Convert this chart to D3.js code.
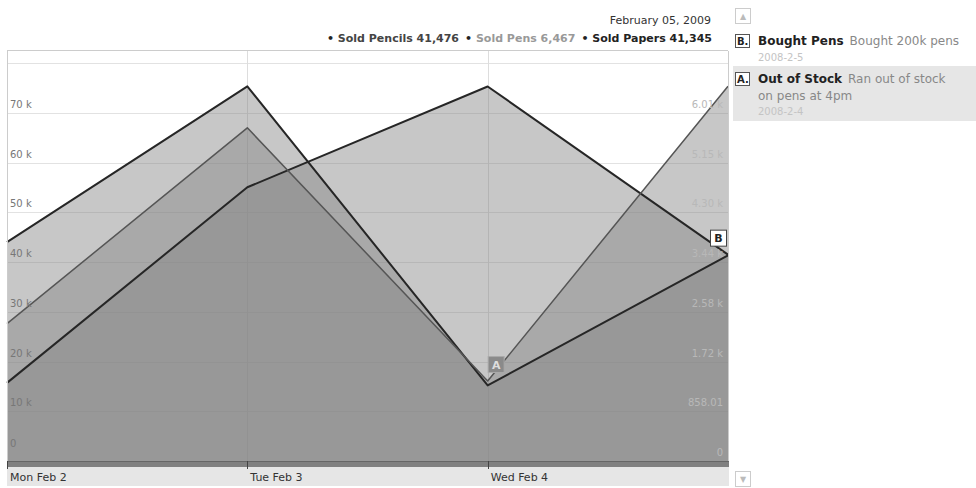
<!DOCTYPE html>
<html>
<head>
<meta charset="utf-8">
<script src="https://cdn.jsdelivr.net/npm/d3@7"></script>
<style>
  html, body { margin: 0; padding: 0; background: #fff; }
  svg { display: block; font-family: "DejaVu Sans", Verdana, sans-serif; }
</style>
</head>
<body>
<script>
// ── Datos ────────────────────────────────────────────────────────────────
const days    = ["2009-02-02", "2009-02-03", "2009-02-04", "2009-02-05"];
const dayLabels = ["Mon Feb 2", "Tue Feb 3", "Wed Feb 4"];
const pencils = [15700, 55022, 75284, 41476];
const papers  = [44000, 75300, 15200, 41345];
const pens    = [2370, 5750, 1380, 6467];   // eje derecho
const leftTicks  = [0, 10000, 20000, 30000, 40000, 50000, 60000, 70000, 80000];
const leftLabels = ["0", "10 k", "20 k", "30 k", "40 k", "50 k", "60 k", "70 k", ""];
const rightLabels = ["0", "858.01", "1.72 k", "2.58 k", "3.44 k", "4.30 k", "5.15 k", "6.01 k"];
const rightStep = 6010 / 7;
const legendItems = [
  {name: "Sold Pencils", value: "41,476", color: "#444"},
  {name: "Sold Pens",    value: "6,467",  color: "#999"},
  {name: "Sold Papers",  value: "41,345", color: "#222"},
];
const annotations = [
  {flag: "B", title: "Bought Pens",  text: ["Bought 200k pens"], date: "2008-2-5", series: "pencils", day: 3},
  {flag: "A", title: "Out of Stock", text: ["Ran out of stock", "on pens at 4pm"], date: "2008-2-4", series: "pens", day: 2},
];

const W = 976, H = 488;
const X0 = 7, X1 = 728, Y0 = 461, YTOP = 63;
const parse = d3.utcParse("%Y-%m-%d");
const dates = days.map(parse);

const x  = d3.scaleUtc().domain(d3.extent(dates)).range([X0, X1]);
const yL = d3.scaleLinear().domain([0, 80000]).range([Y0, YTOP]);
const yR = d3.scaleLinear().domain([0, rightStep * 8]).range([Y0, YTOP]);

const series = [
  {key: "papers",  vals: papers,  y: yL, stroke: "#262626", sw: 2},
  {key: "pencils", vals: pencils, y: yL, stroke: "#262626", sw: 2},
  {key: "pens",    vals: pens,    y: yR, stroke: "#555",    sw: 1.5},
];

const svg = d3.select("body").append("svg").attr("width", W).attr("height", H);

// ── Cabecera ─────────────────────────────────────────────────────────────
svg.append("text").attr("x", 711).attr("y", 24).attr("text-anchor", "end")
  .attr("font-size", 11).attr("fill", "#333").text("February 05, 2009");

const leg = svg.append("text").attr("x", 712).attr("y", 42).attr("text-anchor", "end")
  .attr("font-size", 11).attr("font-weight", "bold");
legendItems.forEach((d, i) => {
  leg.append("tspan").attr("fill", "#222").attr("dx", i ? 6 : 0).text("\u2022 ");
  leg.append("tspan").attr("fill", d.color).text(`${d.name} ${d.value}`);
});

svg.append("line").attr("x1", X0).attr("x2", X1).attr("y1", 50.5).attr("y2", 50.5)
  .attr("stroke", "#ccc");

// ── Rejilla ──────────────────────────────────────────────────────────────
svg.append("g").selectAll("line").data(leftTicks).join("line")
  .attr("x1", X0).attr("x2", X1)
  .attr("y1", d => Math.round(yL(d)) + 0.5).attr("y2", d => Math.round(yL(d)) + 0.5)
  .attr("stroke", "#e2e2e2");
svg.append("g").selectAll("line").data(dates.slice(1, 3)).join("line")
  .attr("x1", d => Math.round(x(d)) + 0.5).attr("x2", d => Math.round(x(d)) + 0.5)
  .attr("y1", 51).attr("y2", Y0)
  .attr("stroke", "#ddd");

// ── Áreas ────────────────────────────────────────────────────────────────
series.forEach(s => {
  const area = d3.area().x((d, i) => x(dates[i])).y0(Y0).y1(d => s.y(d));
  svg.append("path").datum(s.vals).attr("d", area)
    .attr("fill", "#858585").attr("fill-opacity", 0.46);
});
series.forEach(s => {
  const line = d3.line().x((d, i) => x(dates[i])).y(d => s.y(d));
  svg.append("path").datum(s.vals).attr("d", line)
    .attr("fill", "none").attr("stroke", s.stroke).attr("stroke-width", s.sw)
    .attr("stroke-linejoin", "round");
});

// bordes laterales
[X0, X1].forEach(xx => svg.append("line").attr("x1", xx + 0.5).attr("x2", xx + 0.5)
  .attr("y1", 51).attr("y2", Y0).attr("stroke", "#ccc"));

// ── Etiquetas de ejes Y ──────────────────────────────────────────────────
svg.append("g").selectAll("text").data(leftTicks.slice(0, 8)).join("text")
  .attr("x", 10).attr("y", (d, i) => i === 0 ? 447 : yL(d) - 5)
  .attr("font-size", 10).attr("fill", "#777").text((d, i) => leftLabels[i]);
svg.append("g").selectAll("text").data(d3.range(8)).join("text")
  .attr("x", 723).attr("y", i => i === 0 ? 456 : yR(i * rightStep) - 5)
  .attr("text-anchor", "end")
  .attr("font-size", 10).attr("fill", "#b8b8b8").text(i => rightLabels[i]);

// ── Eje X ────────────────────────────────────────────────────────────────
svg.append("rect").attr("x", X0).attr("y", 467).attr("width", X1 - X0 + 1).attr("height", 19)
  .attr("fill", "#e6e6e6");
svg.append("rect").attr("x", X0).attr("y", Y0).attr("width", X1 - X0 + 1).attr("height", 6)
  .attr("fill", "#808080");
svg.append("line").attr("x1", X0).attr("x2", X1 + 1).attr("y1", Y0 + 0.5).attr("y2", Y0 + 0.5)
  .attr("stroke", "#666");
svg.append("g").selectAll("line").data(dates.slice(0, 3)).join("line")
  .attr("x1", d => Math.round(x(d)) + 0.5).attr("x2", d => Math.round(x(d)) + 0.5)
  .attr("y1", Y0).attr("y2", 469).attr("stroke", "#444");
svg.append("g").selectAll("text").data(dates.slice(0, 3)).join("text")
  .attr("x", d => x(d) + 3).attr("y", 481)
  .attr("font-size", 11).attr("fill", "#333").text((d, i) => dayLabels[i]);

// ── Banderas sobre la serie ──────────────────────────────────────────────
const seriesByKey = Object.fromEntries(series.map(s => [s.key, s]));
annotations.forEach(a => {
  const s = seriesByKey[a.series];
  const px = x(dates[a.day]), py = s.y(s.vals[a.day]);
  const isA = a.flag === "A";
  const bx = isA ? px + 0.5 : px - 17.5, by = py - 24.5;
  svg.append("rect").attr("x", bx).attr("y", by).attr("width", 16).attr("height", 16)
    .attr("fill", isA ? "#8a8a8a" : "#fff").attr("stroke", isA ? "#aaa" : "#444");
  svg.append("text").attr("x", bx + 8).attr("y", by + 12).attr("text-anchor", "middle")
    .attr("font-size", 11).attr("font-weight", "bold")
    .attr("fill", isA ? "#ddd" : "#222").text(a.flag);
});

// ── Panel de anotaciones ─────────────────────────────────────────────────
const panel = svg.append("g");
function scrollBtn(y, glyph) {
  panel.append("rect").attr("x", 735.5).attr("y", y + 0.5).attr("width", 15).attr("height", 15)
    .attr("fill", "#fff").attr("stroke", "#ccc");
  panel.append("text").attr("x", 743).attr("y", y + 11).attr("text-anchor", "middle")
    .attr("font-size", 8).attr("fill", "#bbb").text(glyph);
}
scrollBtn(8, "\u25B2");
scrollBtn(471, "\u25BC");

panel.append("rect").attr("x", 733).attr("y", 66).attr("width", W - 733).attr("height", 55)
  .attr("fill", "#e6e6e6");

const rows = [{top: 34}, {top: 72}];
annotations.forEach((a, i) => {
  const t = rows[i].top;
  panel.append("rect").attr("x", 735.5).attr("y", t + 0.5).attr("width", 14).attr("height", 13)
    .attr("fill", "#fff").attr("stroke", "#555");
  panel.append("text").attr("x", 737).attr("y", t + 11).attr("font-size", 10)
    .attr("font-weight", "bold").attr("fill", "#222").text(a.flag + ".");
  const tt = panel.append("text").attr("x", 758).attr("y", t + 11).attr("font-size", 12);
  tt.append("tspan").attr("font-weight", "bold").attr("fill", "#222").text(a.title);
  tt.append("tspan").attr("dx", 6).attr("fill", "#888").text(a.text[0]);
  a.text.slice(1).forEach((ln, j) => {
    panel.append("text").attr("x", 758).attr("y", t + 28 + j * 16).attr("font-size", 12)
      .attr("fill", "#888").text(ln);
  });
  panel.append("text").attr("x", 758).attr("y", t + 27 + (a.text.length - 1) * 16)
    .attr("font-size", 10).attr("fill", "#c4c4c4").text(a.date);
});
</script>
</body>
</html>
